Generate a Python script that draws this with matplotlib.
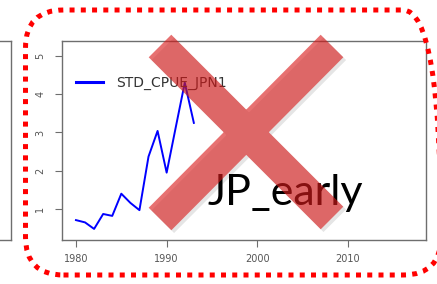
import numpy as np
import matplotlib
matplotlib.use("Agg")
from matplotlib import pyplot as plt
from matplotlib.patches import FancyBboxPatch
from matplotlib.lines import Line2D
from matplotlib.transforms import IdentityTransform
import matplotlib.patheffects as pe

# series
years = [1980, 1981, 1982, 1983, 1984, 1985, 1986, 1987, 1988, 1989, 1990, 1991, 1992, 1993]
cpue = [0.71, 0.65, 0.48, 0.87, 0.82, 1.40, 1.16, 0.97, 2.37, 3.04, 1.95, 3.13, 4.30, 3.25]
series_name = "STD_CPUE_JPN1"
x_ticks = [1980, 1990, 2000, 2010]
y_ticks = [1, 2, 3, 4, 5]
label = "JP_early"

W, H = 437, 284
fig = plt.figure(figsize=(W / 100, H / 100), dpi=100)

frame_col = "#6e6e6e"
tick_col = "#555555"

# piece of the neighbouring panel on the left
axl = fig.add_axes([-0.2, 44 / H, 0.2 + 11 / W, 199 / H])
axl.set_xticks([])
axl.set_yticks([])
for s in axl.spines.values():
    s.set_color(frame_col)
    s.set_linewidth(1.0)

ax = fig.add_axes([62 / W, 44 / H, 364 / W, 199 / H])
ax.plot(years, cpue, color="blue", lw=1.4, label=series_name)
ax.set_xlim(1978.46, 2018.6)
ax.set_ylim(0.19, 5.39)
ax.set_xticks(x_ticks)
ax.set_yticks(y_ticks)
ax.set_yticklabels([str(v) for v in y_ticks], rotation=90, va="center")
ax.tick_params(axis="both", direction="out", length=5, width=0.8,
               color=frame_col, labelcolor=tick_col, labelsize=7)
ax.tick_params(axis="x", pad=5)
ax.tick_params(axis="y", pad=7)
for s in ax.spines.values():
    s.set_color(frame_col)
    s.set_linewidth(1.0)

leg = ax.legend(loc="upper left", bbox_to_anchor=(0.022, 0.855), frameon=False,
                fontsize=10, handlelength=2.0, handletextpad=0.95, borderaxespad=0)
for t in leg.get_texts():
    t.set_color("#333333")
for h in leg.get_lines():
    h.set_linewidth(2.2)

# big label
fig.text(208 / W, 1 - 205 / H, label, family="Lato", fontsize=31,
         color="black", ha="left", va="baseline", zorder=5)

# red cross on top, drawn as one path so the crossing is not darker
xs = [160, 332, np.nan, 332, 160]
ys = [46, 218, np.nan, 46, 219]
shadow = [pe.SimpleLineShadow(offset=(2, -2), shadow_color="black", alpha=0.1),
          pe.Normal()]
cross = Line2D([v / W for v in xs], [1 - v / H for v in ys], transform=fig.transFigure,
               color=(0.85, 0.1, 0.1), alpha=0.62, lw=23, solid_capstyle="butt",
               zorder=10, path_effects=shadow)
fig.add_artist(cross)

# dotted rounded frame
box = FancyBboxPatch((25.5, H - 275), 441 - 25.5, 265,
                     boxstyle="round,pad=0,rounding_size=38",
                     transform=IdentityTransform(), fill=False,
                     edgecolor="red", lw=3.6, linestyle=(0, (1, 1.25)),
                     capstyle="butt", zorder=20)
fig.add_artist(box)

fig.savefig("out.png", dpi=100)
